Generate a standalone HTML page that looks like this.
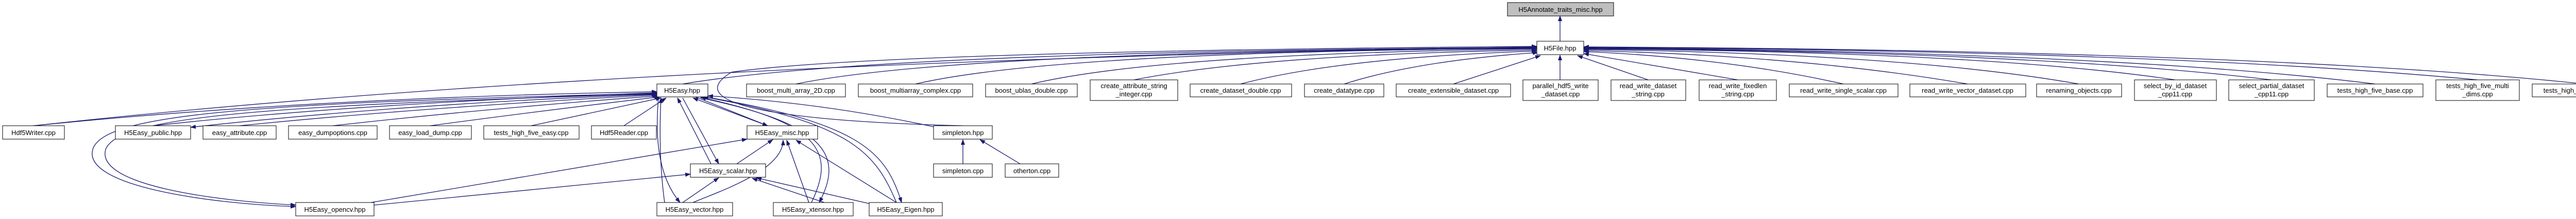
<!DOCTYPE html>
<html><head><meta charset="utf-8"><style>
html,body{margin:0;padding:0;background:#fff;width:5125px;height:425px;overflow:hidden;}
svg{display:block;}
text{font-family:"Liberation Sans",sans-serif;font-size:13px;fill:#000;text-anchor:middle;}
.e{fill:none;stroke:#191970;stroke-width:1.3;marker-end:url(#a);}
.n{fill:#fff;stroke:#000;stroke-width:1;}
</style></head><body>
<svg width="5125" height="425" viewBox="0 0 5125 425" xmlns="http://www.w3.org/2000/svg">
<defs><marker id="a" markerUnits="userSpaceOnUse" markerWidth="11" markerHeight="8" refX="10" refY="4" orient="auto"><path d="M0,0 L11,4 L0,8 z" fill="#191970"/></marker></defs>
<g>
<path class="e" d="M3028,80 L3028,31"/>
<path class="e" d="M1325,163 Q1700,100 2983,92"/>
<path class="e" d="M1545,163 Q1850,100 2983,93"/>
<path class="e" d="M1777,163 Q2050,100 2983,94"/>
<path class="e" d="M2002,163 Q2250,104 2983,95"/>
<path class="e" d="M2201,155 Q2450,106 2983,97"/>
<path class="e" d="M2408,163 Q2600,112 2983,99"/>
<path class="e" d="M2609,163 Q2750,118 2985,102"/>
<path class="e" d="M2821,163 L2990,108"/>
<path class="e" d="M3028,155 L3028,107"/>
<path class="e" d="M3199,155 L3062,108"/>
<path class="e" d="M3373,155 L3074,104"/>
<path class="e" d="M3578,163 Q3350,112 3074,100"/>
<path class="e" d="M3819,163 Q3500,108 3074,98"/>
<path class="e" d="M4035,163 Q3700,104 3074,96"/>
<path class="e" d="M4222,155 Q3850,100 3074,95"/>
<path class="e" d="M4409,155 Q3950,100 3074,94"/>
<path class="e" d="M4610,163 Q4100,100 3074,93"/>
<path class="e" d="M4809,155 Q4200,98 3074,92"/>
<path class="e" d="M5017,163 Q4400,98 3074,91"/>
<path class="e" d="M65,244 Q1200,120 2983,91"/>
<path class="e" d="M1869,244 C1500,235 1320,200 1420,140 Q1700,100 2983,90"/>
<path class="e" d="M65,244 Q600,190 1275,178"/>
<path class="e" d="M297,244 Q700,200 1275,180"/>
<path class="e" d="M1275,183 Q800,200 370,247"/>
<path class="e" d="M465,244 Q800,210 1275,184"/>
<path class="e" d="M646,244 Q950,210 1277,186"/>
<path class="e" d="M835,244 Q1050,215 1280,188"/>
<path class="e" d="M1031,244 L1283,190"/>
<path class="e" d="M1211,244 L1293,190"/>
<path class="e" d="M1275,181 C500,200 200,220 180,290 C160,360 400,395 574,401"/>
<path class="e" d="M1275,182 C520,205 230,225 205,290 C185,360 420,390 574,398"/>
<path class="e" d="M1490,244 L1345,190"/>
<path class="e" d="M1350,188 L1490,244"/>
<path class="e" d="M1380,318 L1315,190"/>
<path class="e" d="M1325,190 L1395,318"/>
<path class="e" d="M1290,393 C1280,320 1280,250 1283,190"/>
<path class="e" d="M1278,190 C1272,260 1275,340 1320,393"/>
<path class="e" d="M1575,393 C1620,300 1600,240 1360,189"/>
<path class="e" d="M1360,190 C1600,240 1640,300 1590,393"/>
<path class="e" d="M1740,393 C1700,300 1660,240 1365,188"/>
<path class="e" d="M1368,188 C1680,240 1720,300 1750,393"/>
<path class="e" d="M1812,246 Q1600,200 1374,186"/>
<path class="e" d="M720,393 L1450,270"/>
<path class="e" d="M1430,318 L1500,271"/>
<path class="e" d="M1345,393 C1400,370 1520,330 1520,272"/>
<path class="e" d="M1570,393 L1527,272"/>
<path class="e" d="M1740,393 L1545,272"/>
<path class="e" d="M726,398 L1340,338"/>
<path class="e" d="M1325,393 L1395,345"/>
<path class="e" d="M1600,393 L1460,346"/>
<path class="e" d="M1700,398 L1468,345"/>
<path class="e" d="M1869,318 L1869,271"/>
<path class="e" d="M1980,318 L1902,271"/>
</g>
<g>
<rect x="2926" y="5" width="206" height="26" fill="#bfbfbf" stroke="#000"/><text x="3029" y="23">H5Annotate_traits_misc.hpp</text>
<rect class="n" x="2983" y="80" width="91" height="26"/><text x="3028" y="98">H5File.hpp</text>
<rect class="n" x="1275" y="163" width="99" height="25"/><text x="1324" y="180">H5Easy.hpp</text>
<rect class="n" x="1449" y="163" width="192" height="25"/><text x="1545" y="180">boost_multi_array_2D.cpp</text>
<rect class="n" x="1666" y="163" width="222" height="25"/><text x="1777" y="180">boost_multiarray_complex.cpp</text>
<rect class="n" x="1913" y="163" width="178" height="25"/><text x="2002" y="180">boost_ublas_double.cpp</text>
<rect class="n" x="2116" y="155" width="170" height="40"/><text x="2201" y="171">create_attribute_string</text><text x="2201" y="187">_integer.cpp</text>
<rect class="n" x="2310" y="163" width="197" height="25"/><text x="2408" y="180">create_dataset_double.cpp</text>
<rect class="n" x="2532" y="163" width="154" height="25"/><text x="2609" y="180">create_datatype.cpp</text>
<rect class="n" x="2710" y="163" width="222" height="25"/><text x="2821" y="180">create_extensible_dataset.cpp</text>
<rect class="n" x="2956" y="155" width="146" height="40"/><text x="3029" y="171">parallel_hdf5_write</text><text x="3029" y="187">_dataset.cpp</text>
<rect class="n" x="3127" y="155" width="145" height="40"/><text x="3199" y="171">read_write_dataset</text><text x="3199" y="187">_string.cpp</text>
<rect class="n" x="3298" y="155" width="150" height="40"/><text x="3373" y="171">read_write_fixedlen</text><text x="3373" y="187">_string.cpp</text>
<rect class="n" x="3473" y="163" width="211" height="25"/><text x="3578" y="180">read_write_single_scalar.cpp</text>
<rect class="n" x="3707" y="163" width="225" height="25"/><text x="3819" y="180">read_write_vector_dataset.cpp</text>
<rect class="n" x="3953" y="163" width="165" height="25"/><text x="4035" y="180">renaming_objects.cpp</text>
<rect class="n" x="4143" y="155" width="159" height="40"/><text x="4222" y="171">select_by_id_dataset</text><text x="4222" y="187">_cpp11.cpp</text>
<rect class="n" x="4326" y="155" width="166" height="40"/><text x="4409" y="171">select_partial_dataset</text><text x="4409" y="187">_cpp11.cpp</text>
<rect class="n" x="4517" y="163" width="186" height="25"/><text x="4610" y="180">tests_high_five_base.cpp</text>
<rect class="n" x="4728" y="155" width="162" height="40"/><text x="4809" y="171">tests_high_five_multi</text><text x="4809" y="187">_dims.cpp</text>
<rect class="n" x="4915" y="163" width="204" height="25"/><text x="5017" y="180">tests_high_five_parallel.cpp</text>
<rect class="n" x="5" y="244" width="120" height="26"/><text x="65" y="262">Hdf5Writer.cpp</text>
<rect class="n" x="224" y="244" width="146" height="26"/><text x="297" y="262">H5Easy_public.hpp</text>
<rect class="n" x="394" y="244" width="142" height="26"/><text x="465" y="262">easy_attribute.cpp</text>
<rect class="n" x="560" y="244" width="172" height="26"/><text x="646" y="262">easy_dumpoptions.cpp</text>
<rect class="n" x="756" y="244" width="159" height="26"/><text x="835" y="262">easy_load_dump.cpp</text>
<rect class="n" x="939" y="244" width="185" height="26"/><text x="1031" y="262">tests_high_five_easy.cpp</text>
<rect class="n" x="1148" y="244" width="126" height="26"/><text x="1211" y="262">Hdf5Reader.cpp</text>
<rect class="n" x="1450" y="244" width="137" height="26"/><text x="1518" y="262">H5Easy_misc.hpp</text>
<rect class="n" x="1812" y="244" width="114" height="26"/><text x="1869" y="262">simpleton.hpp</text>
<rect class="n" x="1340" y="318" width="146" height="26"/><text x="1413" y="336">H5Easy_scalar.hpp</text>
<rect class="n" x="1812" y="318" width="114" height="26"/><text x="1869" y="336">simpleton.cpp</text>
<rect class="n" x="1951" y="318" width="104" height="26"/><text x="2003" y="336">otherton.cpp</text>
<rect class="n" x="574" y="393" width="152" height="26"/><text x="650" y="411">H5Easy_opencv.hpp</text>
<rect class="n" x="1275" y="393" width="147" height="26"/><text x="1348" y="411">H5Easy_vector.hpp</text>
<rect class="n" x="1501" y="393" width="155" height="26"/><text x="1578" y="411">H5Easy_xtensor.hpp</text>
<rect class="n" x="1687" y="393" width="142" height="26"/><text x="1758" y="411">H5Easy_Eigen.hpp</text>
</g>
</svg>
</body></html>
